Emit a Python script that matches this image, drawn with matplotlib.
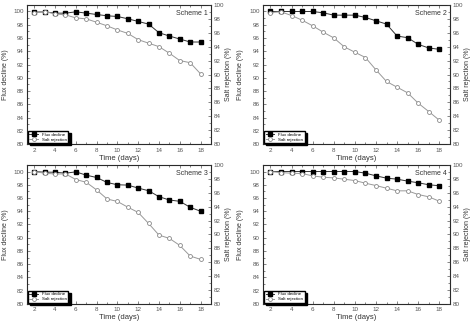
import matplotlib
matplotlib.use("Agg")
import matplotlib.pyplot as plt
from matplotlib.ticker import MultipleLocator

# days of operation
days = list(range(2, 19))

# flux decline (%) - left axis
flux_1 = [99.9, 99.95, 99.75, 99.75, 99.95, 99.75, 99.55, 99.35, 99.25, 98.9, 98.5, 98.1, 96.8, 96.3, 95.85, 95.4, 95.4]
flux_2 = [100.0, 100.0, 100.0, 100.0, 100.0, 99.8, 99.45, 99.45, 99.45, 99.1, 98.6, 98.1, 96.3, 96.05, 95.05, 94.5, 94.3]
flux_3 = [100.0, 99.9, 99.9, 99.75, 99.95, 99.45, 99.1, 98.35, 98.0, 97.95, 97.5, 97.1, 96.2, 95.7, 95.5, 94.6, 94.0]
flux_4 = [100.0, 100.0, 100.0, 100.0, 100.0, 100.0, 100.0, 100.0, 100.0, 99.75, 99.35, 99.0, 98.85, 98.55, 98.3, 98.0, 97.85]

# salt rejection (%) - right axis
salt_1 = [98.9, 99.04, 98.7, 98.56, 98.13, 97.99, 97.5, 96.99, 96.4, 95.9, 95.0, 94.5, 94.0, 93.06, 92.0, 91.7, 90.1]
salt_2 = [98.9, 99.0, 98.47, 97.8, 96.99, 96.08, 95.26, 93.97, 93.2, 92.44, 90.67, 89.0, 88.18, 87.37, 85.89, 84.69, 83.44]
salt_3 = [99.04, 98.8, 98.7, 98.7, 97.9, 97.5, 96.4, 95.1, 94.74, 93.92, 93.16, 91.58, 89.9, 89.43, 88.42, 86.89, 86.41]
salt_4 = [99.04, 98.9, 98.8, 98.76, 98.42, 98.23, 98.13, 97.94, 97.75, 97.37, 97.03, 96.65, 96.27, 96.27, 95.74, 95.41, 94.78]

titles = ["Scheme 1", "Scheme 2", "Scheme 3", "Scheme 4"]
flux_all = [flux_1, flux_2, flux_3, flux_4]
salt_all = [salt_1, salt_2, salt_3, salt_4]

plt.rcParams['font.family'] = ['Liberation Sans', 'DejaVu Sans']

fig = plt.figure(figsize=(4.74, 3.24), dpi=100)

# axes boxes in figure fractions: [left, bottom, width, height]
boxes = [
    [0.057, 0.555, 0.388, 0.430],
    [0.555, 0.555, 0.394, 0.430],
    [0.057, 0.062, 0.388, 0.429],
    [0.555, 0.062, 0.394, 0.429],
]
# y-label anchor (axes fraction, edge nearest the axis)
left_lab = [-0.10, -0.104, -0.10, -0.104]
right_lab = [1.079, 1.078, 1.079, 1.078]

tick_col = "#555555"
text_col = "#333333"

for i, (box, title, flux, salt) in enumerate(zip(boxes, titles, flux_all, salt_all)):
    ax = fig.add_axes(box)
    ax2 = ax.twinx()

    l1, = ax.plot(days, flux, color="#333333", lw=0.7, marker="s", ms=2.6,
                  mfc="black", mec="black", label="Flux decline", zorder=3)
    l2, = ax2.plot(days, salt, color="#999999", lw=0.7, marker="o", ms=2.8,
                   mfc="white", mec="#888888", mew=0.6, label="Salt rejection", zorder=3)

    ax.set_xlim(1.3, 19)
    ax.set_ylim(80, 101.0)
    ax2.set_ylim(80, 100)

    ax.xaxis.set_major_locator(MultipleLocator(2))
    ax.xaxis.set_minor_locator(MultipleLocator(1))
    ax.yaxis.set_major_locator(MultipleLocator(2))
    ax.yaxis.set_minor_locator(MultipleLocator(1))
    ax2.yaxis.set_major_locator(MultipleLocator(2))
    ax2.yaxis.set_minor_locator(MultipleLocator(1))

    ax.tick_params(which="both", direction="in", top=True, labelsize=4.5,
                   colors=tick_col, pad=2.5)
    ax.tick_params(which="major", length=2.5, width=0.5)
    ax.tick_params(which="minor", length=1.5, width=0.5)
    ax2.tick_params(which="both", direction="in", labelsize=4.5, colors=tick_col, pad=2)
    ax2.tick_params(which="major", length=2.5, width=0.5)
    ax2.tick_params(which="minor", length=1.5, width=0.5)

    for sp in ax2.spines.values():
        sp.set_linewidth(0.6)
        sp.set_color("#333333")

    ax.set_xlabel("Time (days)", fontsize=5.5, color=text_col)
    ax.xaxis.set_label_coords(0.5, -0.075)
    ax.set_ylabel("Flux decline (%)", fontsize=5, color=text_col)
    ax.yaxis.set_label_coords(left_lab[i], 0.5)
    ax2.set_ylabel("Salt rejection (%)", fontsize=5, color=text_col)
    ax2.yaxis.set_label_coords(right_lab[i], 0.5)

    ax2.text(0.985, 0.965, title, transform=ax2.transAxes, ha="right", va="top",
             fontsize=5, color=text_col)

    ax2.legend(handles=[l1, l2], loc="lower left", fontsize=3.2, frameon=True,
               fancybox=False, shadow={"color": "black", "alpha": 1.0, "ox": 1.5, "oy": -1.5},
               edgecolor="black", borderpad=0.35,
               handlelength=2.0, labelspacing=0.25, borderaxespad=0.2,
               framealpha=1)

fig.savefig("out.png", dpi=100)
